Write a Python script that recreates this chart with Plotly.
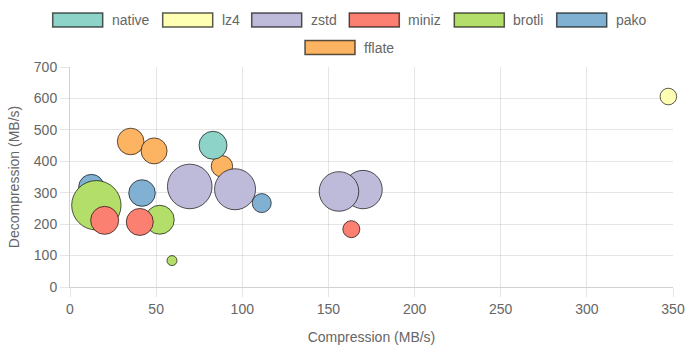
import plotly.graph_objects as go

# ---- data ----
series_names = ["native", "lz4", "zstd", "miniz", "brotli", "pako", "fflate"]
series_colors = ["#8dd3c7", "#ffffb3", "#bebada", "#fb8072", "#b3de69", "#80b1d3", "#fdb462"]

native_x = [83.0]
native_y = [451]
native_r = [14.0]

lz4_x = [347.3]
lz4_y = [606]
lz4_r = [8.3]

zstd_x = [69.5, 95.8, 170.1, 156.1]
zstd_y = [320, 311, 310, 304]
zstd_r = [22.3, 20.5, 19.2, 19.8]

miniz_x = [20.1, 40.5, 163.3]
miniz_y = [212, 207, 184]
miniz_r = [14.0, 13.5, 8.5]

brotli_x = [15.3, 52.1, 59.2]
brotli_y = [260, 214, 84]
brotli_r = [24.7, 14.5, 5.0]

pako_x = [12.4, 41.8, 111.3]
pako_y = [318, 299, 267]
pako_r = [12.7, 13.3, 9.5]

fflate_x = [35.2, 48.8, 88.2]
fflate_y = [463, 433, 384]
fflate_r = [13.3, 13.0, 10.7]

x_ticks = [0, 50, 100, 150, 200, 250, 300, 350]
y_ticks = [0, 100, 200, 300, 400, 500, 600, 700]

series = {
    "native": (native_x, native_y, native_r),
    "lz4": (lz4_x, lz4_y, lz4_r),
    "zstd": (zstd_x, zstd_y, zstd_r),
    "miniz": (miniz_x, miniz_y, miniz_r),
    "brotli": (brotli_x, brotli_y, brotli_r),
    "pako": (pako_x, pako_y, pako_r),
    "fflate": (fflate_x, fflate_y, fflate_r),
}

# ---- layout constants ----
W, H = 700, 350
ML, MR, MT, MB = 70, 27, 67, 63
PW, PH = W - ML - MR, H - MT - MB
FONT = "Liberation Sans, Arial, Helvetica, sans-serif"
TXT = "#666666"
GRID = "rgba(0,0,0,0.1)"
BORDER = "rgba(0,0,0,0.65)"


def px_x(px):
    return (px - ML) / PW


def px_y(py):
    return (H - MB - py) / PH


fig = go.Figure()

# Chart.js draws the first dataset on top -> add in reverse order
for name, color in reversed(list(zip(series_names, series_colors))):
    xs, ys, rs = series[name]
    fig.add_trace(go.Scatter(
        x=xs, y=ys, mode="markers", name=name, showlegend=False,
        marker=dict(size=[2 * r for r in rs], sizemode="diameter",
                    color=color, opacity=1,
                    line=dict(color=BORDER, width=1)),
        cliponaxis=False,
    ))

# ---- legend (Chart.js style boxes) ----
legend_box_left = [52.7, 162.7, 251.7, 349.3, 454.3, 556.7, 305.0]
legend_row = [0, 0, 0, 0, 0, 0, 1]
row_top = [13.0, 40.5]
box_w, box_h = 50, 14

shapes = []
annotations = []
for name, color, left, row in zip(series_names, series_colors, legend_box_left, legend_row):
    top = row_top[row]
    shapes.append(dict(type="rect", xref="paper", yref="paper",
                       x0=px_x(left), x1=px_x(left + box_w),
                       y0=px_y(top + box_h), y1=px_y(top),
                       fillcolor=color, line=dict(color=BORDER, width=1.5),
                       layer="above"))
    annotations.append(dict(text=name, xref="paper", yref="paper",
                            x=px_x(left + box_w + 7), y=px_y(top + box_h / 2),
                            xanchor="left", yanchor="middle", showarrow=False,
                            font=dict(family=FONT, size=14, color=TXT)))

axis_common = dict(
    showgrid=True, gridcolor=GRID, gridwidth=1,
    ticks="outside", tickcolor=GRID, ticklen=9, tickwidth=1,
    showline=True, linecolor="rgba(0,0,0,0.18)", linewidth=1,
    zeroline=False, automargin=False,
    tickfont=dict(family=FONT, size=14, color=TXT),
    mirror=False,
)

fig.update_layout(
    width=W, height=H,
    margin=dict(l=ML, r=MR, t=MT, b=MB, pad=0, autoexpand=False),
    paper_bgcolor="white", plot_bgcolor="white",
    font=dict(family=FONT, size=14, color=TXT),
    xaxis=dict(range=[0, 350], tickvals=x_ticks,
               title=dict(text="Compression (MB/s)", font=dict(family=FONT, size=14, color=TXT), standoff=16),
               **axis_common),
    yaxis=dict(range=[0, 700], tickvals=y_ticks,
               title=dict(text="Decompression (MB/s)", font=dict(family=FONT, size=14, color=TXT), standoff=10),
               **axis_common),
    shapes=shapes,
    annotations=annotations,
    showlegend=False,
)

fig.write_html("out.html")
